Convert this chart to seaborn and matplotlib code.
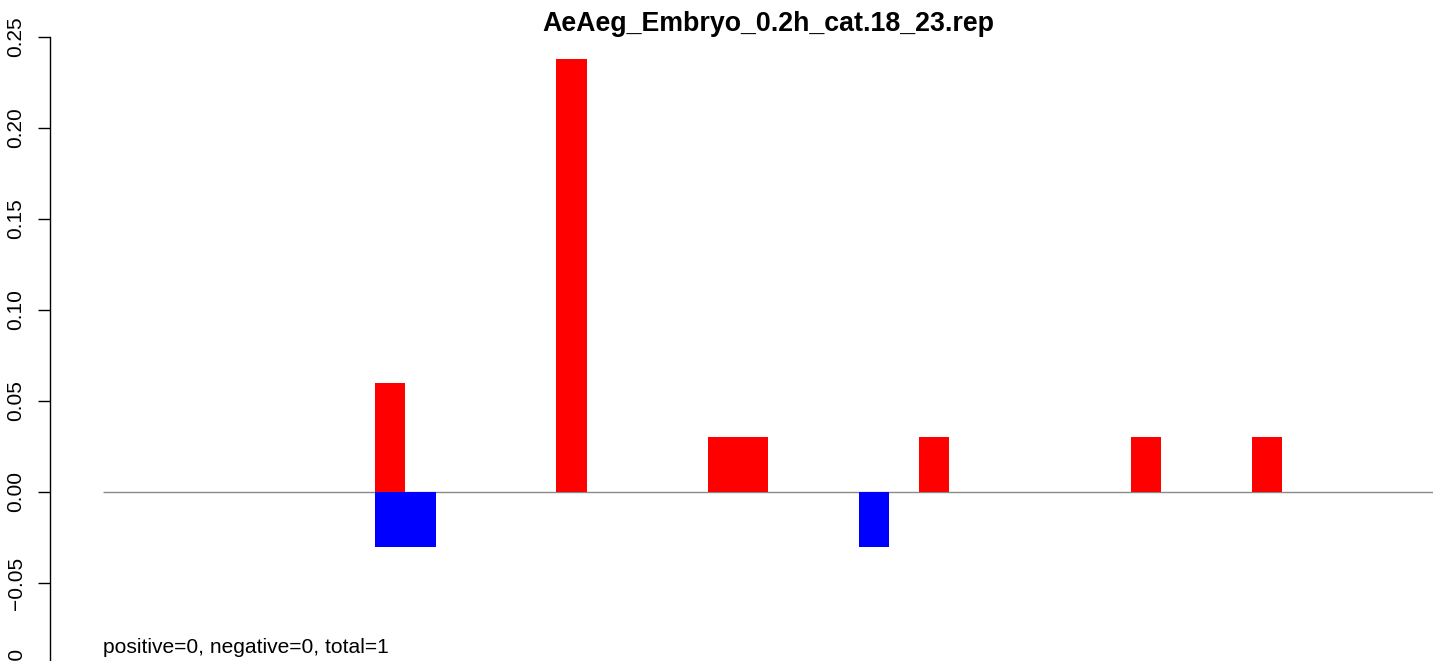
import matplotlib
matplotlib.use("Agg")
import matplotlib.pyplot as plt
import pandas as pd
import seaborn as sns

# bar slots along the x axis (one unit per slot)
n_slots = 44
red_slots = [9, 15, 20, 21, 27, 34, 38]
red_values = [0.06, 0.238, 0.03, 0.03, 0.03, 0.03, 0.03]
blue_slots = [9, 10, 25]
blue_values = [-0.03, -0.03, -0.03]
y_ticks = [-0.10, -0.05, 0.00, 0.05, 0.10, 0.15, 0.20, 0.25]
title = "AeAeg_Embryo_0.2h_cat.18_23.rep"
footer = "positive=0, negative=0, total=1"

sns.set_theme(style="white")
plt.rcParams["font.family"] = ["Liberation Sans", "DejaVu Sans"]
plt.rcParams["text.color"] = "black"
plt.rcParams["ytick.color"] = "black"
plt.rcParams["ytick.labelcolor"] = "black"

df = pd.DataFrame({"slot": range(n_slots)})
df["pos"] = df["slot"].map(dict(zip(red_slots, red_values))).fillna(0.0)
df["neg"] = df["slot"].map(dict(zip(blue_slots, blue_values))).fillna(0.0)

W, H = 1433, 661
fig = plt.figure(figsize=(W / 100, H / 100), dpi=100)
ax = fig.add_axes([50 / W, -13 / H, (W - 50) / W, 637 / H])

sns.barplot(data=df, x="slot", y="pos", color="#ff0000", width=1, linewidth=0,
            saturation=1, errorbar=None, ax=ax)
sns.barplot(data=df, x="slot", y="neg", color="#0000ff", width=1, linewidth=0,
            saturation=1, errorbar=None, ax=ax)
ax.hlines(0, -0.5, n_slots - 0.5, color="#8a8a8a", linewidth=1.0, zorder=0)

slot_px = (W - 103) / n_slots
ax.set_xlim(-0.5 - 53 / slot_px, n_slots - 0.5)
ax.set_ylim(-0.10, 0.25)
ax.set_xticks([])
ax.set_yticks(y_ticks)
ax.set_yticklabels([f"{t:.2f}".replace("-", "\u2212") for t in y_ticks],
                   rotation=90, va="center", fontsize=15, color="black")
ax.tick_params(axis="y", length=8.6, width=1.0, color="black", pad=9, left=True)
ax.set_xlabel("")
ax.set_ylabel("")
for s in ["top", "right", "bottom"]:
    ax.spines[s].set_visible(False)
ax.spines["left"].set_color("black")
ax.spines["left"].set_linewidth(1.0)

fig.text(768 / W, (H - 31) / H, title, ha="center", va="baseline",
         fontsize=19.3, fontweight="bold", color="black")
fig.text(103 / W, (H - 653) / H, footer, ha="left", va="baseline",
         fontsize=15.1, color="black")

fig.savefig("out.png", dpi=100)
